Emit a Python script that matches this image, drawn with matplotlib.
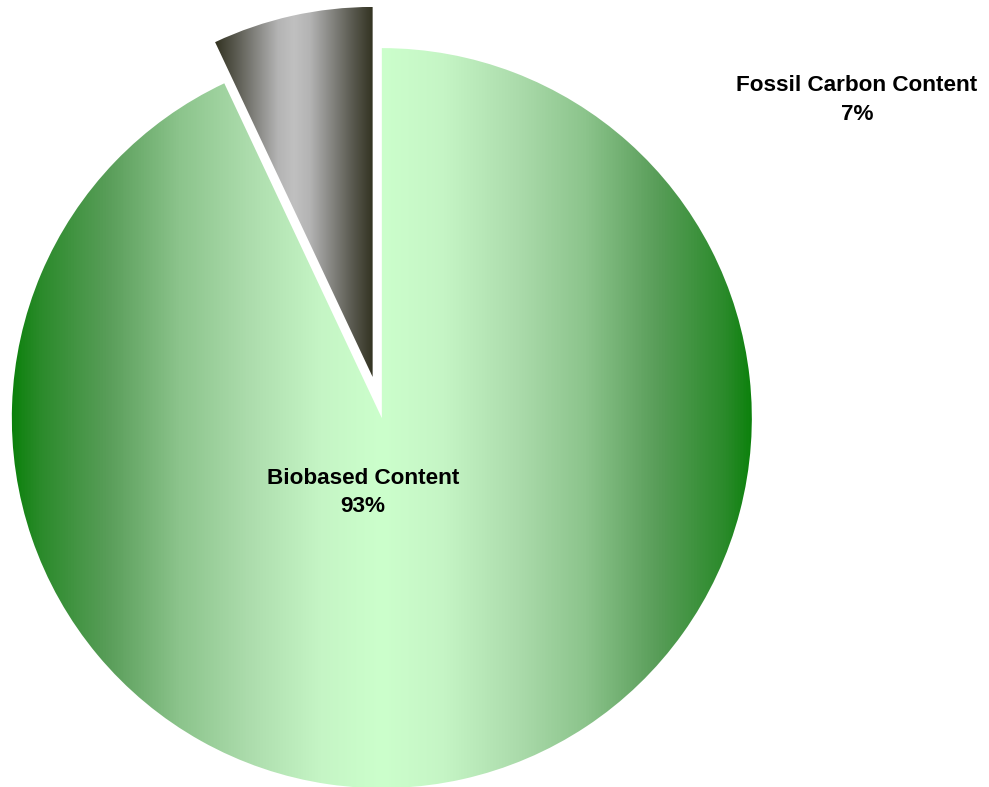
import numpy as np
import matplotlib
matplotlib.use('Agg')
from matplotlib import pyplot as plt
from matplotlib.colors import LinearSegmentedColormap

plt.rcParams['font.family'] = ['Liberation Sans', 'DejaVu Sans']

# data
labels = ['Fossil Carbon Content', 'Biobased Content']
shares = [7, 93]
explode = [0.114, 0.0]

# gradient stops (left half, mirrored on the right) per slice
gray_stops = [(0.0, '#333322'), (0.13, '#5a5a50'), (0.27, '#888884'),
              (0.40, '#b4b4b4'), (0.5, '#c0c0c0')]
green_stops = [(0.0, '#0a800a'), (0.038, '#2a8a2a'), (0.132, '#5a9e5a'),
               (0.227, '#8cc48c'), (0.32, '#acdcac'), (0.416, '#c5f5c5'),
               (0.5, '#ccffcc')]
slice_stops = [gray_stops, green_stops]


def mirrored_cmap(stops):
    full = list(stops) + [(1.0 - p, c) for p, c in reversed(stops[:-1])]
    return LinearSegmentedColormap.from_list('g', full)


fig = plt.figure(figsize=(9.89, 7.87), dpi=100)
ax = fig.add_axes([0, 0, 1, 1])

wedges, _ = ax.pie(shares, explode=explode, startangle=90, counterclock=True,
                   radius=1.0, colors=['none', 'none'],
                   wedgeprops=dict(linewidth=0))

# horizontal gradient (dark - light - dark) clipped to every wedge
for w, stops in zip(wedges, slice_stops):
    cmap = mirrored_cmap(stops)
    verts = w.get_path().vertices
    x0, x1 = verts[:, 0].min(), verts[:, 0].max()
    y0, y1 = verts[:, 1].min(), verts[:, 1].max()
    grad = np.linspace(0, 1, 512).reshape(1, -1)
    im = ax.imshow(grad, cmap=cmap, extent=[x0, x1, y0, y1], aspect='auto',
                   interpolation='bilinear', zorder=1)
    im.set_clip_path(w)

# labels
ax.text(1.284, 0.860, f'{labels[0]}\n{shares[0]}%', ha='center', va='center',
        fontsize=16.2, fontweight='bold', linespacing=1.45)
ax.text(-0.051, -0.200, f'{labels[1]}\n{shares[1]}%', ha='center', va='center',
        fontsize=16.2, fontweight='bold', linespacing=1.45)

ax.set_xlim(-1.032, 1.641)
ax.set_ylim(-0.997, 1.130)
ax.set_aspect('equal')
ax.axis('off')

fig.savefig('out.png', dpi=100)
